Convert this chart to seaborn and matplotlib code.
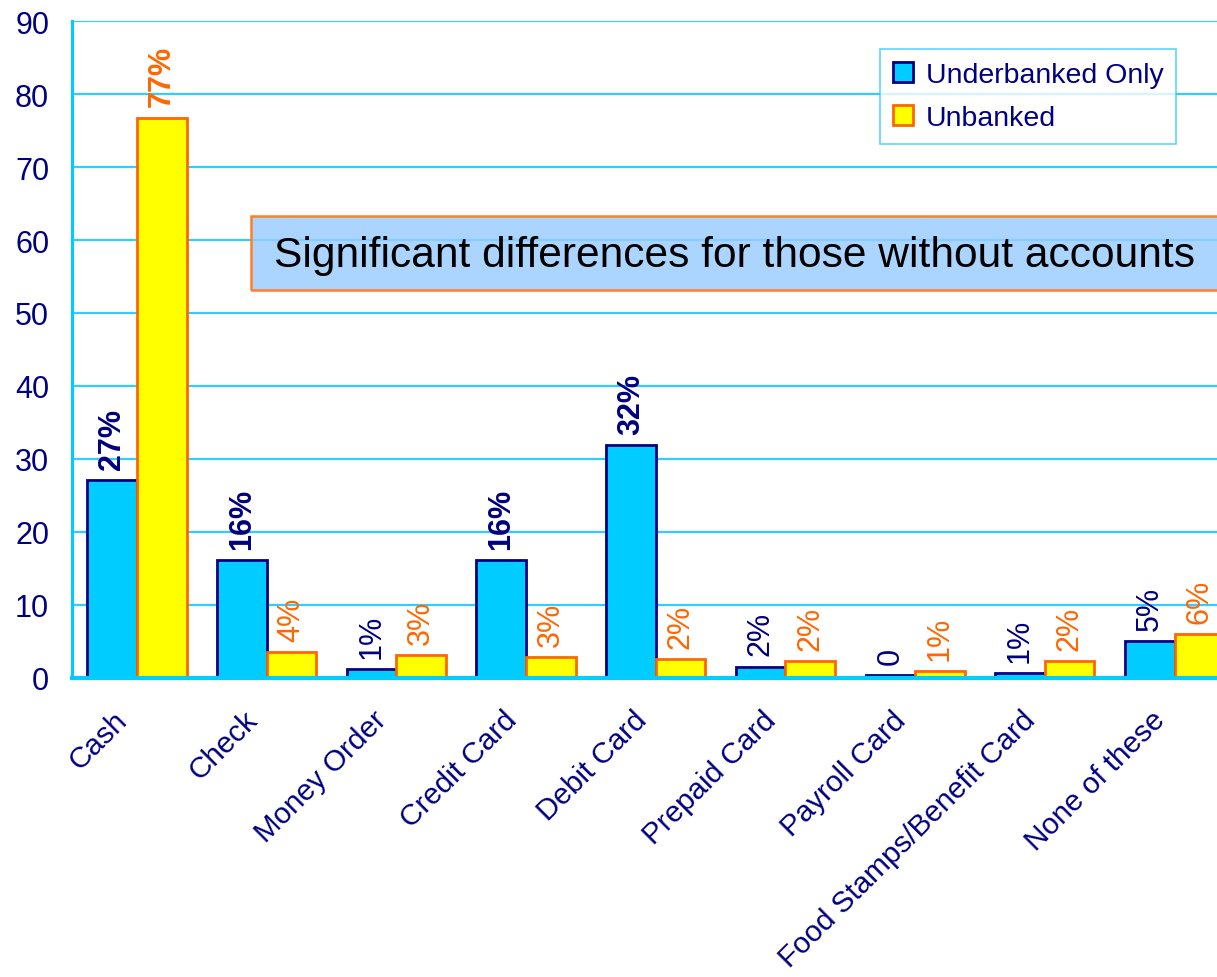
import matplotlib
matplotlib.use("Agg")
import matplotlib.pyplot as plt
import matplotlib.transforms as mtransforms
from matplotlib.patches import Patch, Rectangle
import pandas as pd
import seaborn as sns

# ---- data -------------------------------------------------------------
categories = ["Cash", "Check", "Money Order", "Credit Card", "Debit Card",
              "Prepaid Card", "Payroll Card", "Food Stamps/Benefit Card",
              "None of these"]
series = ["Underbanked Only", "Unbanked"]
underbanked = [27.1, 16.1, 1.2, 16.1, 31.9, 1.5, 0.3, 0.6, 5.0]
unbanked = [76.8, 3.5, 3.1, 2.8, 2.5, 2.2, 0.9, 2.2, 6.0]
y_ticks = [0, 10, 20, 30, 40, 50, 60, 70, 80, 90]
callout = "Significant differences for those without accounts"

# ---- styling ----------------------------------------------------------
NAVY = "#000080"
CYAN = "#00CCFF"
GRID = "#33CCFF"
YELLOW = "#FFFF00"
ORANGE = "#FF6600"
fills = [CYAN, YELLOW]
edges = [NAVY, ORANGE]

sns.set_style("white")
plt.rcParams["font.family"] = ["Liberation Sans", "DejaVu Sans"]

df = pd.DataFrame({
    "category": categories * 2,
    "group": [series[0]] * len(categories) + [series[1]] * len(categories),
    "value": underbanked + unbanked,
})

fig = plt.figure(figsize=(12.17, 9.78), dpi=100)
ax = fig.add_axes([0.0592, 0.3062, 0.9592, 0.671])

sns.barplot(data=df, x="category", y="value", hue="group", order=categories,
            hue_order=series, palette=fills, width=0.765, saturation=1,
            legend=False, ax=ax)

# bar outlines and value labels
for cont, edge, vals in zip(ax.containers, edges, [underbanked, unbanked]):
    for patch, v in zip(cont.patches, vals):
        patch.set_edgecolor(edge)
        patch.set_linewidth(2)
        r = round(v)
        label = "0" if r == 0 else f"{r}%"
        ax.annotate(label,
                    (patch.get_x() + patch.get_width() / 2, patch.get_height()),
                    xytext=(0, 8), textcoords="offset points",
                    rotation=90, ha="center", va="bottom",
                    fontsize=22, color=edge,
                    fontweight="bold" if v >= 10 else "normal")

# axes limits / grid
ax.set_xlim(-0.5, len(categories) - 0.5)
ax.set_ylim(0, 90)
ax.set_yticks(y_ticks)
ax.yaxis.grid(True, color=GRID, linewidth=1.6)
ax.set_axisbelow(True)
ax.set_xlabel("")
ax.set_ylabel("")

for side in ["top", "right"]:
    ax.spines[side].set_visible(False)
ax.spines["left"].set_color(CYAN)
ax.spines["left"].set_linewidth(2.2)
ax.spines["bottom"].set_color(CYAN)
ax.spines["bottom"].set_linewidth(3)

# y ticks
ax.tick_params(axis="y", which="major", direction="out", length=7.5,
               width=1.6, color=CYAN, labelsize=22, labelcolor=NAVY, pad=9)

# x: tick marks on category boundaries, labels at category centres
ax.set_xticks([i - 0.5 for i in range(len(categories) + 1)])
ax.set_xticklabels([])
ax.set_xticks(range(len(categories)), minor=True)
ax.set_xticklabels(categories, minor=True, rotation=45, ha="right",
                   va="top", rotation_mode="anchor")
ax.tick_params(axis="x", which="major", direction="out", length=7.5,
               width=1.6, color=CYAN)
ax.tick_params(axis="x", which="minor", length=0, labelsize=21.3,
               labelcolor=NAVY, pad=20)
shift = mtransforms.ScaledTranslation(-17 / 72, 0, fig.dpi_scale_trans)
for lbl in ax.get_xticklabels(minor=True):
    lbl.set_transform(lbl.get_transform() + shift)

# legend
handles = [Patch(facecolor=f, edgecolor=e, linewidth=2) for f, e in zip(fills, edges)]
leg = fig.legend(handles, series, loc="upper left",
                 bbox_to_anchor=(880 / 1217, 1 - 50 / 978),
                 bbox_transform=fig.transFigure, borderaxespad=0,
                 fontsize=20.5, labelcolor=NAVY, frameon=True, fancybox=False,
                 handlelength=0.7, handleheight=0.7, handletextpad=0.45,
                 borderpad=0.45, labelspacing=0.6)
leg.get_frame().set_edgecolor(GRID)
leg.get_frame().set_linewidth(1.2)

# call-out box
box = Rectangle((251 / 1217, 1 - 291 / 978), 0.81, 74 / 978,
                transform=fig.transFigure, facecolor="#99CCFF", alpha=0.82,
                edgecolor="none", zorder=5)
fig.patches.append(box)
frame = Rectangle((251 / 1217, 1 - 291 / 978), 0.81, 74 / 978,
                  transform=fig.transFigure, facecolor="none",
                  edgecolor="#FF7F27", linewidth=1.8, zorder=6)
fig.patches.append(frame)
fig.text(734 / 1217, 1 - 256 / 978, callout, ha="center", va="center",
         fontsize=30.6, color="black", zorder=7)

fig.savefig("out.png", dpi=100)
